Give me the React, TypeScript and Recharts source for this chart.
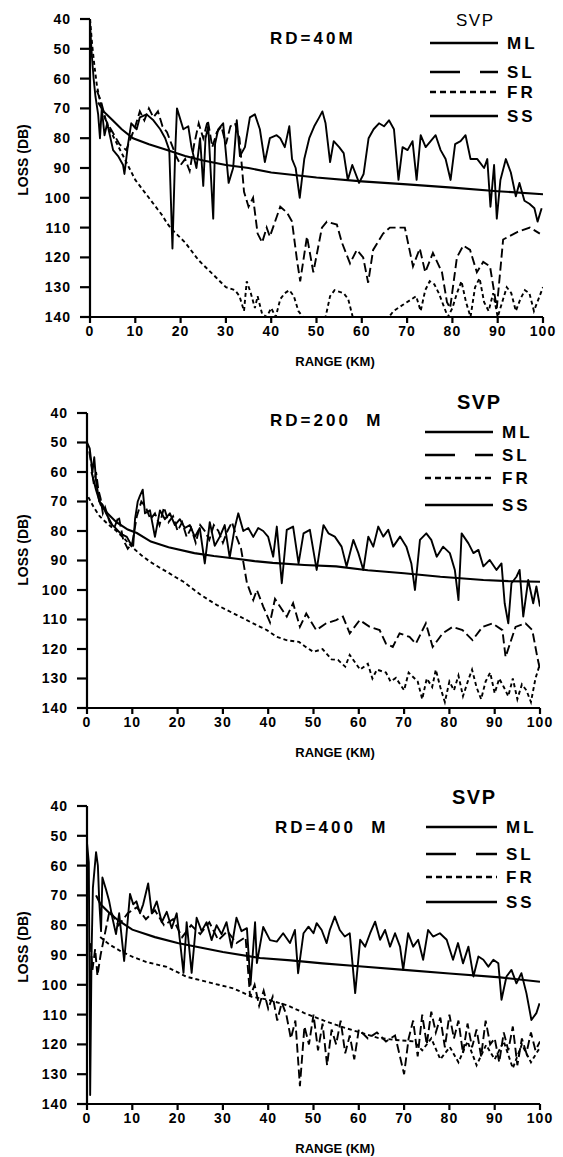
import { LineChart, Line, XAxis, YAxis } from 'recharts'

type Pt = [number, number]

// range (km), loss (dB)

// RD = 40 M
const p1ML: Pt[] = [
  [0, 42], [0.4, 52], [0.8, 60], [1.2, 66], [1.8, 72], [2.2, 80], [2.6, 70], [3.2, 79], [3.8, 75], [5.1, 84],
  [6.2, 86], [7.3, 89], [7.6, 92], [8.4, 82], [9.1, 75], [10.3, 77], [11, 73], [12.5, 72], [14, 74], [15.5, 77],
  [16.6, 80], [17.5, 84], [18.2, 117], [18.8, 85], [19.2, 70], [20.6, 77], [21.7, 76], [22.4, 83], [23.5, 90],
  [24.3, 80], [25, 96], [25.5, 80], [26.1, 76], [27.2, 107], [27.6, 82], [28.3, 77], [29.4, 75], [30.6, 95],
  [31.6, 90], [32.4, 74], [33.1, 86], [34.2, 83], [35.3, 73], [36.4, 72], [37.5, 77], [38.6, 88], [39.7, 80],
  [41.2, 79], [42, 80], [43, 83], [44, 76], [44.6, 87], [45.4, 90], [46.3, 100], [47.3, 87], [48.4, 80],
  [49.5, 76], [50.6, 73], [51.3, 71], [52, 75], [53, 88], [53.8, 81], [55, 83], [56, 85], [56.9, 94], [57.9, 89],
  [59.4, 95], [60.4, 92], [61.5, 80], [62.6, 77], [63.8, 75], [64.9, 76], [66, 74], [67.1, 77], [68.1, 94],
  [69, 83], [70.1, 84], [71.2, 81], [72.1, 94], [73, 79], [74.1, 83], [75.2, 81], [76.3, 79], [77.4, 84],
  [78.5, 87], [79.6, 94], [80.6, 82], [81.8, 81], [82.9, 79], [84, 87], [85.5, 87], [87, 90], [87.7, 87],
  [88.4, 103], [89.2, 89], [89.8, 107], [90.6, 94], [91.8, 87], [92.9, 91.5], [94, 99.5], [94.8, 95],
  [95.9, 101], [97, 102], [98.1, 103.5], [98.8, 108], [99.7, 103.5],
]
const p1SL: Pt[] = [
  [1.5, 64], [2.5, 68], [3.5, 74], [5, 78], [6.5, 82], [8, 84], [9, 80], [10, 76], [11, 71], [12, 74], [13, 70],
  [14, 73], [15, 71], [16, 76], [17, 78], [18, 82], [19, 86], [20, 89], [21, 87], [22, 91], [23, 82], [24, 75],
  [25, 80], [26, 74], [27, 83], [28, 78], [29, 76], [30, 82], [31, 76], [32, 75], [33, 80], [34, 98], [35, 103],
  [36, 100], [37, 112], [38, 115], [39, 110], [39.7, 113], [42, 103], [43.5, 105], [44.6, 108], [45.7, 121],
  [46.4, 128], [47.9, 113], [49.3, 125], [51.2, 110], [52.3, 108], [54.5, 109], [55.6, 115], [57.4, 122],
  [58.9, 117.5], [60.3, 120], [61.4, 128.5], [62.5, 117.5], [64.7, 112], [66.2, 110], [67.7, 110], [69.5, 110],
  [71.3, 123], [72.8, 117], [74, 125], [75.7, 118.5], [77.7, 125], [78.8, 135], [79.5, 137], [81, 120],
  [82.4, 116], [83.9, 117.5], [85.4, 125], [86.8, 121.5], [88.3, 123], [89.8, 137], [91.2, 114], [94.3, 111.5],
  [97.1, 110], [99.3, 112],
]
const p1FR: Pt[] = [
  [0, 40], [0.5, 49], [1, 56], [1.5, 62], [2, 66], [3, 72], [4, 76], [5, 79], [6, 82], [7, 85], [8, 88], [9, 91],
  [10, 94], [11, 96], [12, 98], [13, 100], [14, 102], [15, 104], [16, 106], [17, 108.5], [18, 110.5], [19, 112],
  [20, 113.5], [21, 115], [22, 117], [23, 119], [24, 121], [25, 122.5], [26, 124], [27, 125.5], [28, 127],
  [29, 128.5], [30, 130], [31, 130.5], [32, 131], [33, 133], [34, 138], [34.6, 128], [35.5, 132], [36.4, 137],
  [37, 133], [38, 139], [39, 140], [40, 137], [41, 140], [42, 134], [43, 132], [44, 131], [45, 133], [46, 138],
  [47, 140], [52, 140], [53, 133], [54, 131], [56, 132], [57, 134], [58, 140], [66, 140], [67, 138], [69, 136],
  [71, 134], [72, 133], [73, 138], [74, 131], [75, 128], [76, 129], [77, 132], [78, 136], [79, 140], [80, 137],
  [81, 132], [82, 128], [83, 135], [84, 140], [85, 130], [86, 127], [87, 135], [88, 138], [89, 132], [90, 140],
  [91, 135], [92, 130], [93, 132], [94, 138], [95, 134], [96, 131], [97, 132], [98, 138], [99, 134], [100, 130],
]
const p1SS: Pt[] = [
  [1.8, 68], [3, 71], [5, 74], [7, 77], [9.5, 80], [13, 82], [17, 84], [21, 86], [25, 87.5], [30, 89], [35, 90],
  [40, 91.5], [50, 93.2], [60, 94.5], [70, 95.5], [80, 96.6], [90, 97.8], [100, 98.8],
]

// RD = 200 M
const p2ML: Pt[] = [
  [0, 50], [0.6, 52], [1.2, 60], [1.6, 55], [2, 63], [2.7, 70], [3.4, 71], [4.2, 74], [4.9, 76], [5.6, 78],
  [6.3, 79], [7.5, 81], [8.8, 82], [9.5, 84], [10.2, 85], [10.6, 76], [11.2, 70], [11.7, 68], [12.3, 66],
  [12.8, 74], [13.9, 73], [15, 82], [16.1, 73], [17.2, 76], [18.3, 74], [19.4, 78], [20.5, 76], [21.6, 79],
  [22.7, 78], [23.8, 82], [24.9, 79], [26, 91], [27.1, 77], [28.2, 85], [29.3, 82], [30.4, 78], [31.5, 89],
  [32.6, 79], [33.4, 74], [34.5, 80], [35.6, 79], [36.7, 82], [37.8, 79], [38.9, 80], [40, 82], [41.1, 88.7],
  [41.9, 78.5], [43, 97.7], [44.1, 79.6], [45.5, 78.5], [46.7, 91], [47.8, 80.8], [49.2, 79.6], [50.7, 93.2],
  [52.2, 78], [53.3, 80.8], [54.7, 81.9], [56.2, 85.3], [57.3, 92], [58.8, 83], [59.9, 87.5], [61, 93.2],
  [62.1, 81.9], [63.2, 85.3], [64.3, 78.5], [65.4, 81.9], [66.5, 79.6], [67.6, 85.3], [69.1, 81.9], [70.5, 85.3],
  [71.6, 91], [72.4, 100], [73.5, 83], [74.9, 80.8], [76, 83], [77.2, 88.7], [78.6, 85.3], [80.1, 87.5],
  [81.2, 93.2], [82, 103.4], [82.7, 80.8], [84.2, 84.2], [85.3, 87.5], [86.4, 86.4], [87.5, 92], [88.9, 89.8],
  [90.4, 93.2], [91.5, 91], [92.2, 104.5], [93, 111.3], [93.7, 97.7], [94.8, 95.5], [95.5, 93.2], [96.3, 109],
  [97.4, 96.6], [98.5, 104.5], [99.2, 98.8], [100, 105.6],
]
const p2SL: Pt[] = [
  [0.5, 53], [1, 58], [1.5, 64], [2, 60], [2.5, 66], [3, 69], [3.5, 74], [4, 72], [5, 77], [6, 79], [7, 75],
  [8, 83], [9, 86], [10, 84], [11, 75], [12, 70], [13, 72], [14, 76], [15, 74], [16, 78], [17, 72], [18, 77],
  [19, 75], [20, 80], [21, 77], [22, 82], [23, 79], [24, 84], [25, 78], [26, 80], [27, 83], [28, 78], [29, 80],
  [30, 84], [31, 80], [32, 77], [33, 82], [34, 86], [35.3, 97.6], [36.7, 103.4], [37.5, 100], [38.9, 105.6],
  [40.4, 111], [41.5, 103], [42.6, 105.6], [44.1, 109], [45.5, 104.5], [47, 112.5], [48.4, 108], [50.6, 113.6],
  [52.8, 111.3], [55, 110.2], [56.5, 109], [58, 114.7], [60.2, 110.2], [62.4, 112.5], [64.6, 113.6], [66, 118.2],
  [67.5, 119.3], [69, 114.7], [71.2, 115.9], [72.6, 118.2], [74.8, 111.3], [76.3, 119.3], [78.5, 114.7],
  [80.7, 112.5], [82.9, 113.6], [85.1, 117], [87.3, 112.5], [89.5, 111.3], [91.7, 113.6], [92.4, 122.7],
  [94.6, 112.5], [96.8, 111.3], [98.3, 113.6], [99.4, 122.7], [100, 127],
]
const p2FR: Pt[] = [
  [0.3, 68.5], [1.5, 72], [2.8, 75], [4.5, 77.5], [6.5, 80], [8.5, 83], [10.2, 85.8], [12, 88.2], [13.9, 90.4],
  [15.8, 92.2], [17.6, 93.8], [19.5, 95.6], [21.3, 97.2], [23, 99.2], [25, 101.5], [27, 103.5], [28.7, 105.1],
  [30.5, 106.5], [32.3, 107.9], [34, 109.2], [36, 110.8], [38, 112.3], [39.7, 113.6], [41.9, 115.9], [44, 117],
  [46.8, 117.6], [48, 119], [50, 121], [52, 120], [54, 123.5], [55.4, 123.7], [57, 126], [58, 122], [60.3, 127],
  [62, 125], [63, 130], [64, 127], [66, 128], [67, 131], [68.2, 129.8], [70, 134], [71, 128], [73, 131], [74, 137],
  [75, 130], [76.2, 132.9], [77, 127], [78, 133], [79, 138], [80, 131], [81, 134], [82, 129], [83, 136],
  [84.1, 130.8], [85, 127], [86, 133], [87, 137], [88, 131], [89, 128], [90, 135], [91, 130], [92, 132.9],
  [93, 136], [94, 130], [95, 137], [96, 132], [97, 134], [98, 138], [99, 130], [100, 125],
]
const p2SS: Pt[] = [
  [1, 60], [2, 66], [3, 71], [4.5, 74], [6.5, 77], [9, 79.5], [11, 80.7], [14.1, 83.6], [18, 85.5], [23.7, 87.5],
  [28, 88.5], [32.6, 89.3], [37, 90.2], [41, 90.8], [48, 91.5], [55, 92], [62, 93.3], [70, 94.3], [78, 95.5],
  [87.5, 96.6], [93, 97], [100, 97.2],
]

// RD = 400 M
const p3ML: Pt[] = [
  [0, 52.4], [0.4, 59], [0.7, 137], [1, 90], [1.3, 67.5], [2, 55.5], [2.4, 60], [2.7, 72], [3.1, 82], [3.4, 64],
  [4.2, 68], [4.9, 72], [5.6, 77.5], [6.4, 83], [7.1, 76], [8.2, 92], [9.5, 69.5], [10.2, 73], [10.9, 72],
  [11.7, 76], [12.4, 73], [13.5, 66], [14.3, 76], [15.4, 72], [16.5, 79], [17.6, 75.5], [18.7, 81], [19.8, 76],
  [20.5, 85], [21.3, 96], [22, 79], [23.1, 96], [24.2, 77.5], [25.3, 82], [26.4, 79], [27.5, 85], [28.6, 80],
  [29.7, 83], [30.8, 79], [31.9, 87.5], [33, 77.5], [34.1, 82], [35.3, 81], [36.1, 100], [37.1, 79], [37.5, 92.7],
  [38.9, 80.6], [40.4, 85], [41.9, 85.5], [43.3, 82.7], [44.8, 86], [45.9, 81.6], [46.6, 96.1], [47.8, 82.7],
  [48.9, 80.5], [50, 82.7], [50.7, 79.3], [51.8, 81.6], [52.9, 86], [53.6, 81.6], [54.7, 77.1], [55.8, 81.6],
  [56.9, 83.8], [58, 82.7], [59.2, 102.8], [60.3, 84.9], [61.4, 87.2], [62.5, 82.7], [63.6, 78.8], [64.7, 84.9],
  [65.8, 81.6], [66.9, 87.2], [68, 82.7], [69.1, 87.2], [69.8, 95], [70.9, 82.7], [72, 87.2], [73.1, 84.9],
  [74.2, 91.6], [75.3, 81.6], [76.4, 83.8], [77.9, 82.7], [79.4, 84.9], [80.8, 91.6], [81.9, 86], [83, 92.8],
  [84.2, 87.2], [85.3, 97.2], [86.4, 90.5], [87.5, 91.6], [88.6, 93.9], [89.7, 91.6], [90.8, 92.8], [91.5, 105],
  [92.6, 97.2], [93.7, 95], [94.8, 99.5], [95.9, 96.1], [97, 102.8], [98.1, 111.8], [99.2, 109.5], [99.9, 106.2],
]
const p3SL: Pt[] = [
  [0.8, 86], [1.2, 95], [1.8, 88], [2.3, 97], [3, 90], [5, 75], [7, 80], [9, 76], [11, 74], [13, 78], [15, 75],
  [17, 80], [19, 78], [21, 84], [23, 80], [25, 83], [27, 79], [29, 85], [31, 82], [33, 86], [35, 84], [36, 104],
  [37, 100], [38, 107], [39, 102], [40, 108], [41, 104], [42, 112], [43, 106], [44, 110], [45, 118], [46, 112],
  [47, 134], [48, 114], [49, 120], [50, 110], [51, 122], [52, 113], [53, 127], [54, 115], [55, 120], [56, 112],
  [57, 123], [58, 117], [59, 125], [60, 115], [62, 118], [64, 116], [66, 119], [68, 117], [70, 130], [71, 118],
  [72, 112], [73, 124], [74, 110], [75, 120], [76, 109], [77, 116], [78, 111], [79, 121], [80, 110], [81, 118],
  [82, 112], [83, 123], [84, 113], [85, 121], [86, 115], [87, 124], [88, 112], [89, 120], [90, 118], [91, 126],
  [92, 116], [93, 122], [94, 114], [95, 127], [96, 118], [97, 123], [98, 116], [99, 122], [100, 119],
]
const p3FR: Pt[] = [
  [2.9, 84], [5, 86.5], [7.5, 88.8], [10.2, 90.7], [13, 92.3], [17.6, 94], [22, 97.3], [26.4, 99], [32.3, 101.2],
  [36.4, 104], [40, 105], [44.4, 107], [48, 109.5], [52.3, 112], [56, 114], [60.3, 116], [64.2, 117.8],
  [68, 118.5], [72.2, 119], [74, 122], [76, 118], [78, 125], [80.1, 120.9], [82, 126], [84, 119], [86, 127],
  [88.1, 120.2], [90, 125], [92, 119], [94, 128], [96, 120], [98, 126], [100, 121],
]
const p3SS: Pt[] = [
  [2, 70], [3, 73], [5, 76], [7, 78.5], [10, 81.5], [15, 84], [20, 86], [25, 87.5], [30, 89], [38.2, 91],
  [45, 91.8], [52, 92.8], [60, 93.8], [70, 95], [80, 96.2], [91.2, 97.5], [100, 99],
]

const rangeTicks = [0, 10, 20, 30, 40, 50, 60, 70, 80, 90, 100]
const lossTicks = [40, 50, 60, 70, 80, 90, 100, 110, 120, 130, 140]
const legendNames = ['ML', 'SL', 'FR', 'SS']
const depthLabels = ['RD=40M', 'RD=200  M', 'RD=400  M']

const font = '"Liberation Sans", Arial, sans-serif'
const tickStyle = { fill: '#000', fontSize: 14, fontWeight: 700, fontFamily: font, letterSpacing: 1 }
const axisStroke = { stroke: '#000', strokeWidth: 2.2 }

const toRows = (pts: Pt[]) => pts.map(([x, y]) => ({ x, y }))

interface PanelProps {
  top: number
  x0: number
  x100: number
  plotH: number
  ml: Pt[]
  sl: Pt[]
  fr: Pt[]
  ss: Pt[]
}

function Panel({ top, x0, x100, plotH, ml, sl, fr, ss }: PanelProps) {
  return (
    <div style={{ position: 'absolute', left: 0, top: top - 10 }}>
      <LineChart width={563} height={plotH + 40} margin={{ top: 10, right: 563 - x100, left: 20, bottom: 0 }}>
        <XAxis
          dataKey="x"
          type="number"
          domain={[0, 100]}
          ticks={rangeTicks}
          allowDataOverflow
          height={30}
          tick={tickStyle}
          tickSize={6}
          tickMargin={3}
          tickLine={axisStroke}
          axisLine={axisStroke}
        />
        <YAxis
          type="number"
          domain={[40, 140]}
          reversed
          ticks={lossTicks}
          allowDataOverflow
          width={x0 - 20}
          tick={tickStyle}
          tickSize={10}
          tickMargin={9}
          tickLine={axisStroke}
          axisLine={axisStroke}
        />
        <Line data={toRows(fr)} dataKey="y" type="linear" stroke="#000" strokeWidth={1.9} strokeDasharray="4 3" dot={false} isAnimationActive={false} />
        <Line data={toRows(sl)} dataKey="y" type="linear" stroke="#000" strokeWidth={1.9} strokeDasharray="9 4" dot={false} isAnimationActive={false} />
        <Line data={toRows(ss)} dataKey="y" type="linear" stroke="#000" strokeWidth={2.1} dot={false} isAnimationActive={false} />
        <Line data={toRows(ml)} dataKey="y" type="linear" stroke="#000" strokeWidth={1.9} strokeLinejoin="round" dot={false} isAnimationActive={false} />
      </LineChart>
    </div>
  )
}

interface LegendProps {
  x1: number
  x2: number
  rows: number[]
  svpX: number
  svpY: number
  svpBold: boolean
  rdX: number
  rdY: number
  rd: string
  lossY: number
  rangeY: number
}

function Annotations({ x1, x2, rows, svpX, svpY, svpBold, rdX, rdY, rd, lossY, rangeY }: LegendProps) {
  const dashes = [undefined, '30 20', '6 4', undefined]
  return (
    <g fontFamily={font} fill="#000">
      <text x={svpX} y={svpY} dominantBaseline="central" fontSize={svpBold ? 20 : 17} fontWeight={svpBold ? 900 : 400} letterSpacing={1.5}>
        SVP
      </text>
      <text x={rdX} y={rdY} dominantBaseline="central" fontSize={17} fontWeight={700} letterSpacing={3} style={{ whiteSpace: 'pre' }}>
        {rd}
      </text>
      {rows.map((y, i) => (
        <g key={legendNames[i]}>
          <line x1={x1} x2={x2} y1={y} y2={y} stroke="#000" strokeWidth={2.4} strokeDasharray={dashes[i]} />
          <text x={x2 + 9} y={y} dominantBaseline="central" fontSize={17} fontWeight={700} letterSpacing={3}>
            {legendNames[i]}
          </text>
        </g>
      ))}
      <text x={23} y={lossY} textAnchor="middle" dominantBaseline="central" fontSize={14} fontWeight={700} transform={`rotate(-90 23 ${lossY})`}>
        LOSS (DB)
      </text>
      <text x={335} y={rangeY} textAnchor="middle" dominantBaseline="central" fontSize={13} fontWeight={700}>
        RANGE (KM)
      </text>
    </g>
  )
}

export default function App() {
  return (
    <div style={{ position: 'absolute', left: 0, top: 0, width: 563, height: 1157, background: '#fff' }}>
      <Panel top={19} x0={90} x100={543} plotH={298} ml={p1ML} sl={p1SL} fr={p1FR} ss={p1SS} />
      <Panel top={413} x0={87} x100={540} plotH={295} ml={p2ML} sl={p2SL} fr={p2FR} ss={p2SS} />
      <Panel top={806} x0={87} x100={540} plotH={298} ml={p3ML} sl={p3SL} fr={p3FR} ss={p3SS} />
      <svg width={563} height={1157} style={{ position: 'absolute', left: 0, top: 0, pointerEvents: 'none' }}>
        <Annotations x1={430} x2={498} rows={[43, 72, 92, 116]} svpX={456} svpY={20} svpBold={false} rdX={270} rdY={38} rd={depthLabels[0]} lossY={160} rangeY={361} />
        <Annotations x1={425} x2={493} rows={[432, 455, 478, 505]} svpX={457} svpY={402} svpBold rdX={270} rdY={420} rd={depthLabels[1]} lossY={550} rangeY={752} />
        <Annotations x1={426} x2={497} rows={[827, 854, 877, 902]} svpX={452} svpY={797} svpBold rdX={275} rdY={827} rd={depthLabels[2]} lossY={947} rangeY={1148} />
      </svg>
    </div>
  )
}
